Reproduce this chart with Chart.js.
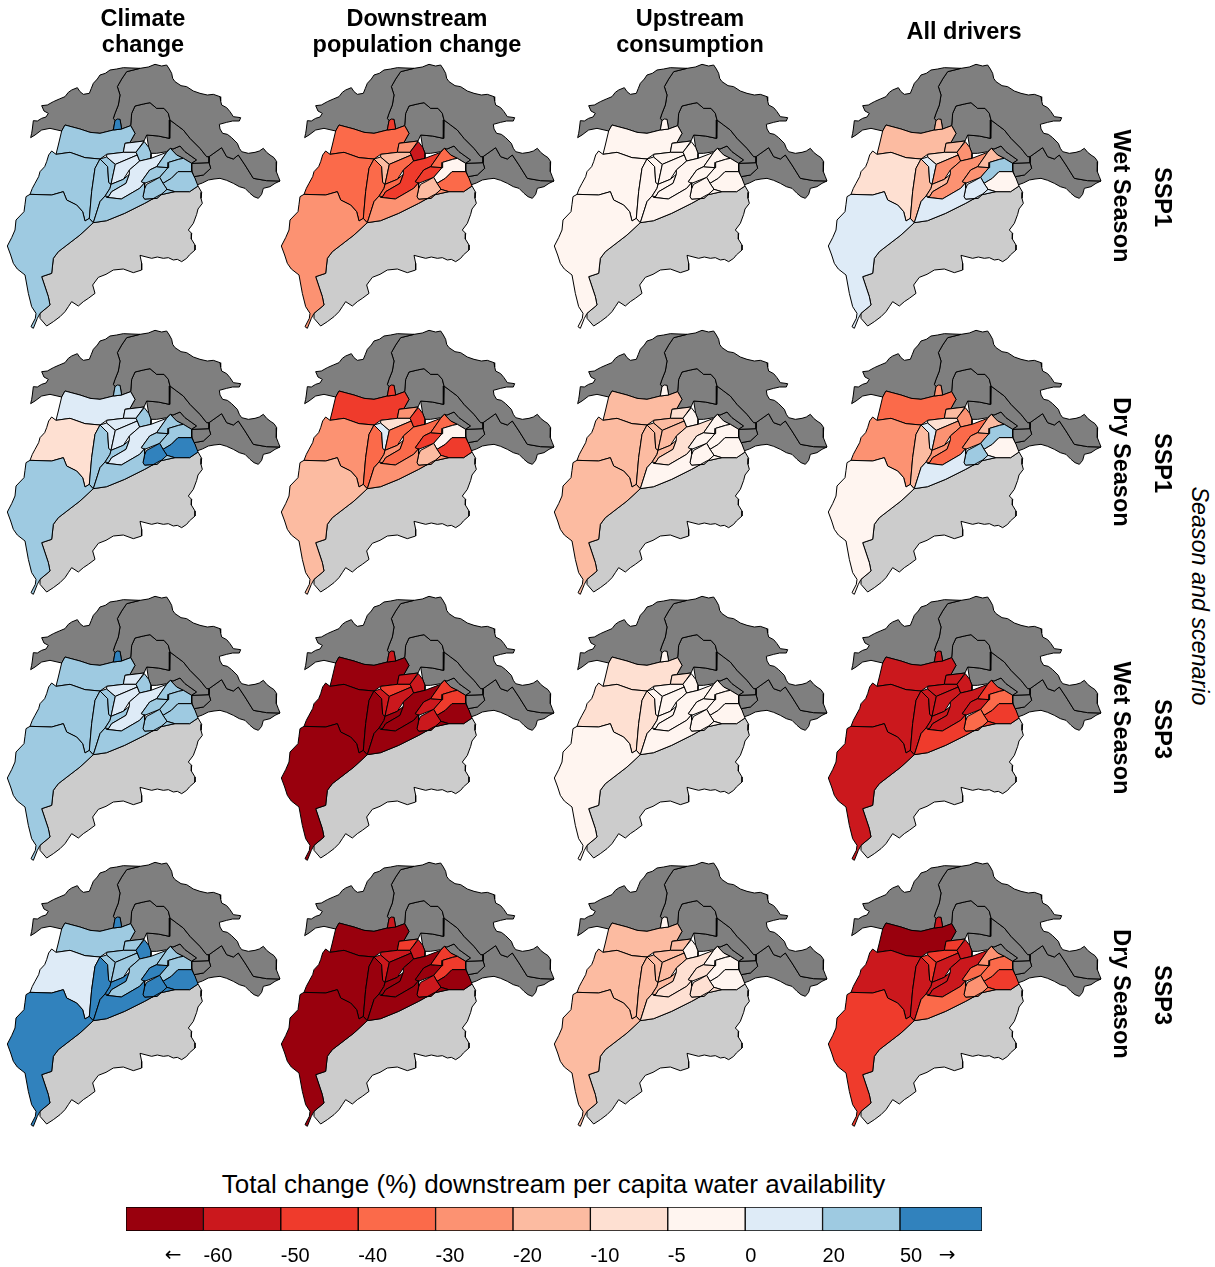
<!DOCTYPE html>
<html>
<head>
<meta charset="utf-8">
<title>Downstream per capita water availability</title>
<script src="https://cdn.jsdelivr.net/npm/chart.js@4"></script>
<style>
  body { margin: 0; background: #fff; font-family: "Liberation Sans", Arial, sans-serif; color: #000; }
  #page { position: relative; width: 1215px; height: 1267px; overflow: hidden; }
  .panel { position: absolute; width: 290px; height: 280px; }
  .label { position: absolute; white-space: nowrap; text-align: center; transform: translate(-50%, -50%); }
  .head { font-weight: bold; font-size: 23.5px; line-height: 26px; }
  .side { font-weight: bold; font-size: 23.5px; transform: translate(-50%, -50%) rotate(90deg); }
  #legendBox { position: absolute; left: 124px; top: 1205px; width: 860px; height: 62px; }
</style>
</head>
<body>
<div id="page"></div>
<script>
// headings
var columns = [["Climate", "change"], ["Downstream", "population change"], ["Upstream", "consumption"], ["All drivers"]];
var seasons = ["Wet Season", "Dry Season", "Wet Season", "Dry Season"];
var scenarios = ["SSP1", "SSP1", "SSP3", "SSP3"];
var sideTitle = "Season and scenario";
var legendTitle = "Total change (%) downstream per capita water availability";

// colour classes, lowest to highest, and the upper limit of each one
var classColors = ["#99000D", "#CB181D", "#EF3B2C", "#FB6A4A", "#FC9272", "#FCBBA1", "#FEE0D2", "#FFF5F0", "#DEEBF7", "#9ECAE1", "#3182BD"];
var classLimits = [-60, -50, -40, -30, -20, -10, -5, 0, 20, 50, Infinity];
var legendWidths = [1, 1, 1, 1, 1, 1, 1, 1, 1, 1, 1.06];
var legendLabels = ["←", "-60", "-50", "-40", "-30", "-20", "-10", "-5", "0", "20", "50", "→"];
var legendTicks = [0.5, 1, 2, 3, 4, 5, 6, 7, 8, 9, 10, 10.5];

// sub-basin outlines, map units
var northWest = [[92,248],[95,235],[97,222],[100,197],[112,198],[125,190],[138,186],[145,175],[132,168],[125,152],[142,150],[160,140],[178,132],[195,125],[205,112],[215,105],[232,98],[240,110],[250,118],[268,115],[274,100],[280,85],[292,72],[300,60],[316,55],[330,45],[350,42],[370,38],[420,40],[380,50],[365,72],[352,95],[360,120],[355,150],[345,175],[340,190],[345,197],[340,225],[300,235],[270,232],[240,222],[195,210],[185,228],[150,220],[125,225],[105,240]];
var northCentral = [[420,40],[445,36],[465,28],[485,33],[500,30],[508,42],[515,55],[518,70],[525,80],[543,92],[560,95],[580,108],[600,115],[622,120],[640,118],[660,125],[662,138],[665,150],[680,158],[690,170],[700,185],[722,188],[718,198],[698,198],[680,202],[658,208],[660,222],[668,235],[682,238],[695,248],[705,258],[712,265],[718,280],[725,290],[745,295],[765,292],[778,288],[790,280],[800,292],[810,300],[822,308],[830,320],[828,335],[830,350],[835,365],[840,378],[800,377],[760,370],[735,330],[715,300],[700,312],[680,305],[665,278],[627,305],[620,305],[600,280],[570,250],[550,225],[530,210],[510,195],[505,175],[492,160],[470,160],[450,143],[430,147],[405,153],[395,175],[392,212],[365,222],[360,193],[345,197],[340,190],[345,175],[355,150],[360,120],[352,95],[365,72],[380,50]];
var innerNorth = [[392,212],[395,175],[405,153],[430,147],[450,143],[470,160],[492,160],[505,175],[510,195],[508,250],[475,243],[440,240],[432,258],[375,265],[390,262],[405,235]];
var innerEast = [[510,195],[530,210],[550,225],[570,250],[600,280],[620,305],[627,305],[627,323],[575,325],[590,315],[555,290],[540,273],[519,282],[511,280],[500,290],[470,295],[453,295],[446,277],[440,240],[475,243],[508,250]];
var smallEast = [[511,280],[519,282],[540,273],[555,290],[590,315],[575,325],[550,310],[530,300]];
var gorge = [[575,325],[627,323],[632,340],[610,360],[582,365],[575,345]];
var farEast = [[627,305],[665,278],[680,305],[700,312],[715,300],[735,330],[760,370],[800,377],[840,378],[825,385],[810,395],[790,400],[785,418],[775,430],[762,425],[750,415],[735,400],[718,395],[700,385],[680,376],[660,370],[642,372],[625,375],[607,384],[590,390],[585,370],[582,365],[610,360],[632,340],[627,323]];
var southBasin = [[280,503],[320,497],[374,475],[434,445],[479,420],[524,410],[569,410],[594,393],[605,412],[603,430],[607,445],[594,462],[590,478],[580,505],[565,525],[575,535],[574,552],[585,570],[585,585],[568,600],[560,610],[545,620],[532,613],[520,615],[505,608],[490,610],[472,606],[455,610],[420,601],[425,625],[425,645],[400,653],[370,642],[340,645],[318,658],[295,667],[278,690],[285,715],[265,730],[250,740],[235,753],[215,740],[205,755],[195,770],[180,785],[160,800],[140,813],[120,790],[120,775],[150,750],[145,725],[125,665],[155,655],[160,610],[175,590],[240,540]];

var top_ = [[195,210],[240,222],[270,232],[300,235],[340,225],[365,222],[392,212],[405,235],[390,262],[375,265],[370,292],[320,298],[300,312],[255,308],[210,292],[168,298],[175,270],[185,228]];
var spot = [[340,225],[345,197],[352,192],[360,193],[365,222]];
var leftMid = [[168,298],[210,292],[255,308],[300,312],[285,340],[275,410],[268,490],[255,498],[248,470],[230,450],[200,435],[190,410],[155,420],[90,418],[97,400],[105,385],[116,365],[120,350],[134,335],[140,320],[146,300],[155,288]];
var bottomLeft = [[78,425],[90,418],[155,420],[190,410],[200,435],[230,450],[248,470],[255,498],[268,490],[280,503],[240,540],[175,590],[160,610],[155,655],[125,665],[145,725],[150,750],[120,775],[112,790],[100,820],[93,815],[106,790],[108,775],[95,755],[85,715],[75,660],[52,642],[40,625],[32,600],[22,573],[35,548],[45,525],[48,495],[72,470],[75,448]];
var narrow = [[300,312],[323,335],[326,382],[333,388],[330,400],[316,422],[300,440],[280,503],[268,490],[275,410],[285,340]];
var narrow2 = [[300,312],[320,306],[346,328],[333,388],[326,382],[323,335]];
var midA = [[375,265],[432,258],[413,285],[408,292],[370,292]];
var midB = [[320,298],[370,292],[408,292],[412,300],[346,328],[320,306]];
var midC = [[346,328],[412,300],[419,318],[388,345],[370,373],[333,388]];
var midD = [[413,285],[433,260],[446,277],[453,295],[453,310],[419,318],[412,300],[408,292]];
var midE = [[316,422],[330,400],[333,388],[370,373],[388,358],[378,385],[335,410],[325,426]];
var midF = [[325,426],[335,410],[378,385],[388,358],[388,345],[419,318],[453,310],[500,292],[470,335],[449,345],[424,380],[434,383],[419,400],[364,432],[319,427]];
var midG = [[424,380],[449,345],[470,335],[504,338],[479,367],[434,385]];
var midH = [[470,335],[500,292],[511,280],[530,300],[550,310],[536,313],[506,322],[504,338]];
var midI = [[506,322],[536,313],[550,310],[575,325],[575,350],[534,350],[514,370],[489,385],[479,367],[504,338]];
var midJ = [[489,385],[514,370],[534,350],[575,350],[585,370],[594,393],[569,410],[524,410],[501,403]];
var midK = [[429,425],[434,400],[440,388],[459,378],[479,367],[489,385],[501,403],[471,430],[434,433]];
var lower = [[280,503],[300,440],[316,422],[319,427],[364,432],[419,400],[434,383],[434,400],[429,425],[434,433],[471,430],[501,403],[524,410],[479,420],[434,445],[374,475],[320,497]];

var greyDark = [northWest, northCentral, innerNorth, innerEast, smallEast, gorge, farEast];
var greyLight = [southBasin];
// same order as the value lists below
var regions = [top_, spot, leftMid, bottomLeft, narrow, narrow2, midA, midB, midC, midD, midE, midF, midG, midH, midI, midJ, midK, lower];

// % change per region, estimated from the class colour in each panel
var wet1Climate = [35, 60, 35, 35, 35, 35, 10, 10, 10, 35, 35, 10, 35, 35, 35, 35, 35, 35];
var wet1Population = [-35, -45, -35, -25, -35, -15, -25, -15, -35, -55, -35, -45, -45, -35, -2, -35, -15, -25];
var wet1Upstream = [-2, -2, -2, -2, -2, -2, -2, -2, -2, -2, -2, -2, -2, -2, -2, -2, -2, -2];
var wet1All = [-15, -15, -7, 10, -15, 10, -15, -7, -25, -25, -15, -25, -25, -15, 35, -2, 10, 10];

var dry1Climate = [10, 35, -7, 35, 35, 10, 10, 10, 10, 35, 35, 10, 35, 35, 35, 60, 60, 35];
var dry1Population = [-45, -45, -25, -15, -35, 10, -25, -7, -35, -45, -25, -35, -45, -35, -2, -45, -15, -25];
var dry1Upstream = [-15, -2, -15, -15, -15, -15, -7, -15, -15, -2, -15, -7, -2, -2, -2, -2, -2, -2];
var dry1All = [-35, -25, -25, -2, -15, 10, -15, -7, -25, -25, -25, -35, -25, -15, 35, -2, 35, 10];

var wet3Climate = [35, 60, 35, 35, 35, 35, 10, 10, 10, 35, 35, 10, 35, 35, 35, 35, 35, 35];
var wet3Population = [-65, -55, -65, -65, -65, -55, -55, -45, -55, -55, -65, -65, -55, -45, -45, -65, -55, -65];
var wet3Upstream = [-7, -2, -7, -2, -7, -2, -7, -2, -2, -2, -2, -2, -2, -2, -2, -2, -2, -2];
var wet3All = [-55, -55, -55, -55, -55, -55, -55, -55, -55, -55, -55, -55, -55, -45, -35, -45, -35, -45];

var dry3Climate = [35, 60, 10, 60, 60, 35, 35, 35, 35, 60, 60, 35, 60, 35, 35, 60, 60, 60];
var dry3Population = [-65, -55, -65, -65, -65, -55, -45, -55, -65, -55, -65, -65, -65, -45, -45, -65, -55, -65];
var dry3Upstream = [-15, -2, -15, -15, -15, -15, -15, -15, -15, -2, -15, -7, -7, -2, -2, -2, -7, -7];
var dry3All = [-65, -55, -55, -45, -55, -45, -45, -45, -55, -55, -55, -55, -35, -25, -35, -45, -25, -35];

var panelValues = [
  [wet1Climate, wet1Population, wet1Upstream, wet1All],
  [dry1Climate, dry1Population, dry1Upstream, dry1All],
  [wet3Climate, wet3Population, wet3Upstream, wet3All],
  [dry3Climate, dry3Population, dry3Upstream, dry3All]
];

Chart.defaults.font.family = '"Liberation Sans", Arial, sans-serif';
Chart.defaults.color = "#000";
Chart.defaults.animation = false;

var page = document.getElementById("page");

function addLabel(text, x, y, cls, extra) {
  var div = document.createElement("div");
  div.className = "label " + (cls || "");
  div.style.left = x + "px";
  div.style.top = y + "px";
  div.innerHTML = text;
  if (extra) div.style.cssText += extra;
  page.appendChild(div);
}

function classColor(value) {
  for (var i = 0; i < classLimits.length; i++) {
    if (value <= classLimits[i]) return classColors[i];
  }
}

function outline(poly, color, order) {
  var pts = poly.concat([poly[0]]).map(function(p) { return { x: p[0], y: p[1] }; });
  return {
    data: pts,
    showLine: true,
    fill: "shape",
    backgroundColor: color,
    borderColor: "#000",
    borderWidth: 1,
    pointRadius: 0,
    tension: 0,
    clip: false,
    order: order
  };
}

function drawPanel(row, col) {
  var box = document.createElement("div");
  box.className = "panel";
  box.style.left = (col * 273.7) + "px";
  box.style.top = (55 + row * 266) + "px";
  var canvas = document.createElement("canvas");
  box.appendChild(canvas);
  page.appendChild(box);

  var datasets = [];
  var values = panelValues[row][col];
  greyLight.forEach(function(p) { datasets.push(outline(p, "#CCCCCC", 100)); });
  greyDark.forEach(function(p) { datasets.push(outline(p, "#7F7F7F", 90)); });
  regions.forEach(function(p, i) { datasets.push(outline(p, classColor(values[i]), 50 - i)); });

  new Chart(canvas, {
    type: "scatter",
    data: { datasets: datasets },
    options: {
      responsive: true,
      maintainAspectRatio: false,
      events: [],
      plugins: { legend: { display: false }, tooltip: { enabled: false } },
      scales: {
        x: { type: "linear", min: 0, max: 870, display: false },
        y: { type: "linear", min: 0, max: 840, reverse: true, display: false }
      }
    }
  });
}

for (var r = 0; r < 4; r++) {
  for (var c = 0; c < 4; c++) drawPanel(r, c);
}

// headings and side labels
var headX = [143, 417, 690, 964];
columns.forEach(function(lines, i) {
  addLabel(lines.join("<br>"), headX[i], 31, "head");
});
seasons.forEach(function(s, i) {
  addLabel(s, 1121, 196 + i * 266, "side");
  addLabel(scenarios[i], 1162, 197 + i * 266, "side");
});
addLabel(sideTitle, 1199, 596, "", "font-style:italic;font-size:23.3px;transform:translate(-50%,-50%) rotate(90deg);");
addLabel(legendTitle, 553.5, 1184, "", "font-size:26px;");

// colour bar
var legendBox = document.createElement("div");
legendBox.id = "legendBox";
var legendCanvas = document.createElement("canvas");
legendBox.appendChild(legendCanvas);
page.appendChild(legendBox);

new Chart(legendCanvas, {
  type: "bar",
  data: {
    labels: ["change"],
    datasets: legendWidths.map(function(w, i) {
      return {
        data: [w],
        backgroundColor: classColors[i],
        borderColor: "#000",
        borderWidth: 1,
        borderSkipped: false,
        barPercentage: 1,
        categoryPercentage: 1
      };
    })
  },
  options: {
    indexAxis: "y",
    responsive: true,
    maintainAspectRatio: false,
    events: [],
    layout: { padding: { left: 2, right: 2, top: 2, bottom: 0 } },
    plugins: { legend: { display: false }, tooltip: { enabled: false } },
    scales: {
      y: { stacked: true, display: false },
      x: {
        stacked: true,
        type: "linear",
        min: 0,
        max: 11.06,
        grid: { display: false },
        border: { display: false },
        afterFit: function(scale) { scale.height = 36; },
        afterBuildTicks: function(scale) {
          scale.ticks = legendTicks.map(function(v) { return { value: v }; });
        },
        ticks: {
          autoSkip: false,
          maxRotation: 0,
          align: "start",
          padding: 5,
          font: function(ctx) {
            var label = legendLabels[ctx.index];
            if (label === "←" || label === "→") return { size: 20, family: '"DejaVu Sans", sans-serif' };
            return { size: 20 };
          },
          callback: function(value, index) { return legendLabels[index]; }
        }
      }
    }
  }
});
</script>
</body>
</html>
